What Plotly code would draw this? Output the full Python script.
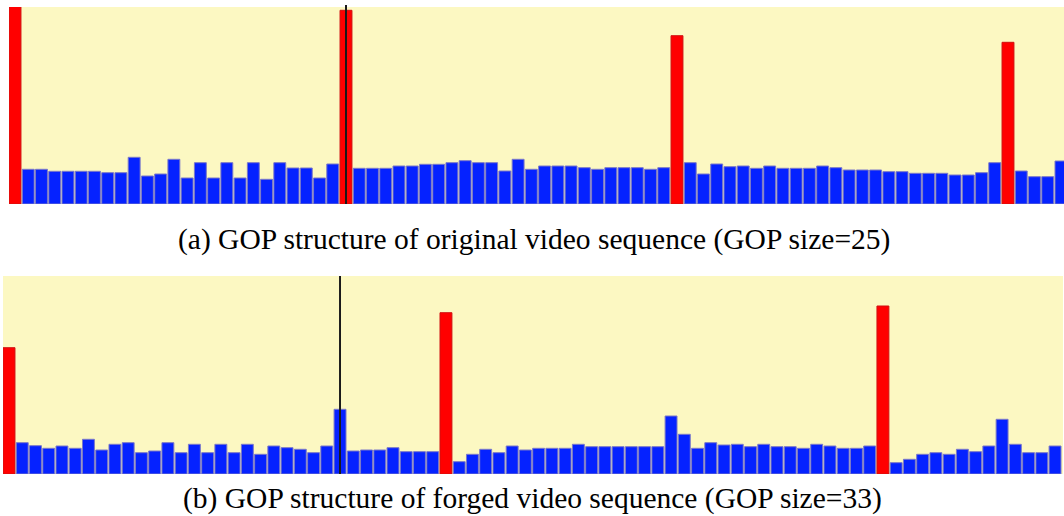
import plotly.graph_objects as go

# Frame sizes (arbitrary units)
original_sizes = [
    205, 34.7, 34.7, 32.7, 32.7, 32.7, 32.7, 31.3, 31.3, 46.7,
    28, 30, 44.7, 26, 41.3, 26, 41.3, 26, 41.3, 24.7,
    41.3, 36, 36, 26, 40, 193.7, 35.7, 35.7, 35.7, 38,
    38, 39.7, 39.7, 41.3, 43.3, 41.3, 41.3, 33, 44.7, 34.7,
    38, 38, 38, 36.3, 34.7, 36.3, 36.3, 36.3, 34.7, 36.3,
    168.3, 41.3, 30, 40, 37.3, 38, 35.7, 38, 35.7, 35.7,
    35.7, 38, 36.3, 34, 34, 34, 32.3, 32.3, 30.7, 30.7,
    30.7, 29, 29, 31.3, 41.3, 161.7, 33, 27.3, 27.3, 43,
]
original_iframes = [0, 25, 50, 75]

forged_sizes = [
    126.3, 31.3, 28.3, 25.7, 28, 25.7, 34.7, 24, 29.7, 31.3,
    21.3, 23, 31.3, 21.3, 29.7, 21.3, 29.7, 21.3, 29.7, 19.7,
    28, 26.3, 24.7, 21.3, 28, 64.7, 23, 24, 24, 26.3,
    22.3, 22.3, 22.3, 161.3, 12.3, 19.7, 24.7, 21.3, 28, 24,
    25.7, 25.7, 25.7, 29.7, 27.3, 27.3, 27.3, 27.3, 27.3, 27.3,
    58, 39.7, 25.7, 31.3, 29, 29.7, 27.3, 29.7, 27.3, 27.3,
    25.7, 29.7, 28, 25.7, 25.7, 28, 168, 11.3, 14.7, 19.7,
    21.3, 19.7, 24.7, 22.3, 28, 54.7, 29.7, 21.3, 21.3, 28,
]
forged_iframes = [0, 33, 66]

splice_frame = 25  # position of the vertical marker in both panels

caption_a = "(a) GOP structure of original video sequence (GOP size=25)"
caption_b = "(b) GOP structure of forged video sequence (GOP size=33)"

W, H = 1064, 516
BG = "#FCF8C2"
BLUE = "#0522FF"
BLUE_EDGE = "#7A78C8"
RED = "#FF0000"
RED_EDGE = "#D01010"


def colors(sizes, iframes):
    fill = [RED if i in iframes else BLUE for i in range(len(sizes))]
    edge = [RED_EDGE if i in iframes else BLUE_EDGE for i in range(len(sizes))]
    return fill, edge


fig = go.Figure()
f1, e1 = colors(original_sizes, original_iframes)
fig.add_trace(go.Bar(x=list(range(len(original_sizes))), y=original_sizes,
                     marker=dict(color=f1, line=dict(color=e1, width=1)),
                     xaxis="x", yaxis="y", width=0.9, showlegend=False))
f2, e2 = colors(forged_sizes, forged_iframes)
fig.add_trace(go.Bar(x=list(range(len(forged_sizes))), y=forged_sizes,
                     marker=dict(color=f2, line=dict(color=e2, width=1)),
                     xaxis="x2", yaxis="y2", width=0.9, showlegend=False))

ax = dict(showticklabels=False, showgrid=False, zeroline=False, ticks="",
          showline=False, fixedrange=True)

fig.update_layout(
    width=W, height=H,
    margin=dict(l=0, r=0, t=0, b=0),
    paper_bgcolor="white",
    plot_bgcolor=BG,
    xaxis=dict(domain=[9 / W, 1.0], range=[-0.453, 79.23], anchor="y", **ax),
    yaxis=dict(domain=[(H - 204) / H, (H - 7) / H], range=[0, 197], anchor="x", **ax),
    xaxis2=dict(domain=[3 / W, 1063 / W], range=[-0.453, 79.6], anchor="y2", **ax),
    yaxis2=dict(domain=[(H - 474) / H, (H - 276) / H], range=[0, 198], anchor="x2", **ax),
    shapes=[
        dict(type="line", xref="x", yref="y domain", x0=splice_frame, x1=splice_frame,
             y0=0, y1=1.01, line=dict(color="#1a1a1a", width=2)),
        dict(type="line", xref="x2", yref="y2 domain", x0=splice_frame, x1=splice_frame,
             y0=0, y1=1, line=dict(color="#1a1a1a", width=2)),
    ],
    annotations=[
        dict(text=caption_a, xref="paper", yref="paper", x=534 / W, y=(H - 239) / H,
             showarrow=False, xanchor="center", yanchor="middle",
             font=dict(family="Liberation Serif", size=29.5, color="black")),
        dict(text=caption_b, xref="paper", yref="paper", x=532 / W, y=(H - 499) / H,
             showarrow=False, xanchor="center", yanchor="middle",
             font=dict(family="Liberation Serif", size=29.5, color="black")),
    ],
)

fig.write_html(
    "out.html",
    config={"displayModeBar": False},
    post_script="document.body.style.margin='0';document.body.style.padding='0';",
)
